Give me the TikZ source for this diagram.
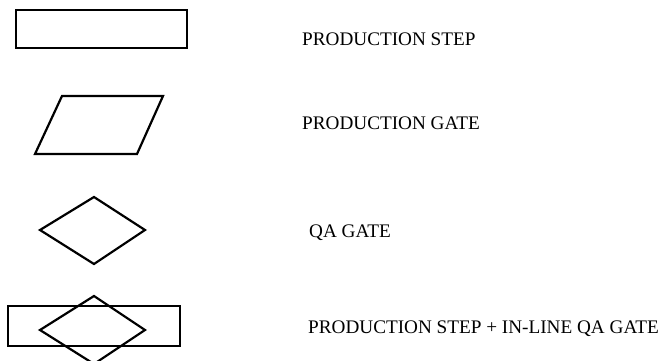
\documentclass[tikz,border=0pt]{standalone}
\usepackage{fontspec}
\setmainfont{Liberation Serif}
\begin{document}
\begin{tikzpicture}[x=1pt,y=-1pt,
  shp/.style={draw=black,line width=2.2pt,line join=miter,fill=none},
  thinshp/.style={draw=black,line width=1.6pt,fill=none},
  lbl/.style={anchor=base west,inner sep=0pt,font=\fontsize{19.2}{21}\selectfont}]
\useasboundingbox (0,0) rectangle (670,360);
\clip (0,0) rectangle (670,360);
% production step
\draw[shp] (16,10) rectangle (187,48);
% production gate
\draw[shp] (35,154) -- (137,154) -- (163,96) -- (62,96) -- cycle;
% QA gate
\draw[shp] (94,197) -- (145,230) -- (94,264) -- (40,230) -- cycle;
% step + inline QA gate
\draw[thinshp] (8,306) rectangle (180,346);
\draw[shp] (94,296) -- (145,330) -- (94,364) -- (40,330) -- cycle;
% labels
\node[lbl] (t1) at (302,45) {PRODUCTION STEP};
\node[lbl] (t2) at (302,129) {PRODUCTION GATE};
\node[lbl] (t3) at (309,237) {QA GATE};
\node[lbl] (t4) at (308,333) {PRODUCTION STEP + IN-LINE QA GATE};
\end{tikzpicture}
\end{document}
